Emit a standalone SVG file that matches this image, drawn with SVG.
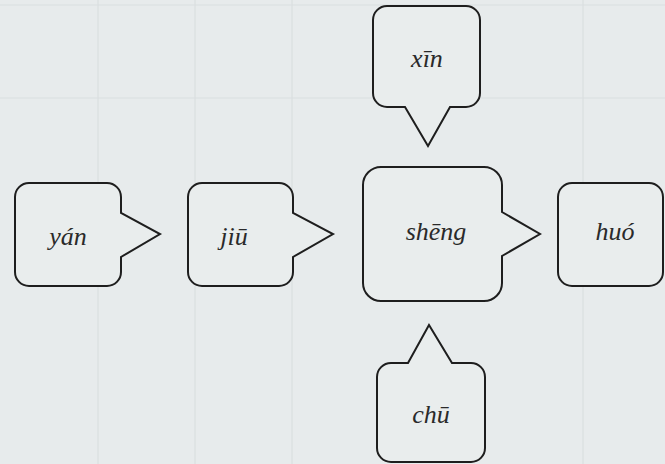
<svg xmlns="http://www.w3.org/2000/svg" width="665" height="464" viewBox="0 0 665 464">
  <style>
    .bubble { fill: #e9eded; stroke: #1e1e1e; stroke-width: 2; stroke-linejoin: miter; }
    .lbl { font-family: 'Liberation Serif', 'Times New Roman', serif; font-style: italic; font-size: 26px; fill: #2a2a2a; text-anchor: middle; }
    .grid { stroke: #dadfe0; stroke-width: 1.2; fill: none; }
  </style>
  <rect x="0" y="0" width="665" height="464" fill="#e7ebec"/>
  <g id="background-grid" class="grid">
    <path d="M98,0 V464 M195,0 V464 M292,0 V464 M583,0 V464 M0,98 H665 M0,5 H665"/>
  </g>
  <g id="connectors"></g>
  <g id="node-yan">
    <path class="bubble" d="M29,183 H107 A14,14 0 0 1 121,197 V213 L160,234 L121,257 V272 A14,14 0 0 1 107,286 H29 A14,14 0 0 1 15,272 V197 A14,14 0 0 1 29,183 Z"/>
    <text class="lbl" x="68" y="245" font-family="Liberation Serif">yán</text>
  </g>
  <g id="node-jiu">
    <path class="bubble" d="M202,183 H279 A14,14 0 0 1 293,197 V213 L333,234 L293,257 V272 A14,14 0 0 1 279,286 H202 A14,14 0 0 1 188,272 V197 A14,14 0 0 1 202,183 Z"/>
    <text class="lbl" x="234" y="245" font-family="Liberation Serif">jiū</text>
  </g>
  <g id="node-sheng">
    <path class="bubble" d="M381,167 H484 A18,18 0 0 1 502,185 V212 L540,234 L502,256 V283 A18,18 0 0 1 484,301 H381 A18,18 0 0 1 363,283 V185 A18,18 0 0 1 381,167 Z"/>
    <text class="lbl" x="436" y="240" font-family="Liberation Serif">shēng</text>
  </g>
  <g id="node-huo">
    <path class="bubble" d="M572,183 H649 A14,14 0 0 1 663,197 V272 A14,14 0 0 1 649,286 H572 A14,14 0 0 1 558,272 V197 A14,14 0 0 1 572,183 Z"/>
    <text class="lbl" x="615" y="240" font-family="Liberation Serif">huó</text>
  </g>
  <g id="node-xin">
    <path class="bubble" d="M387,6 H466 A14,14 0 0 1 480,20 V93 A14,14 0 0 1 466,107 H450 L428,146 L405,107 H387 A14,14 0 0 1 373,93 V20 A14,14 0 0 1 387,6 Z"/>
    <text class="lbl" x="427" y="67" font-family="Liberation Serif">xīn</text>
  </g>
  <g id="node-chu">
    <path class="bubble" d="M391,363 H408 L429,325 L452,363 H471 A14,14 0 0 1 485,377 V448 A14,14 0 0 1 471,462 H391 A14,14 0 0 1 377,448 V377 A14,14 0 0 1 391,363 Z"/>
    <text class="lbl" x="431" y="423" font-family="Liberation Serif">chū</text>
  </g>
</svg>
